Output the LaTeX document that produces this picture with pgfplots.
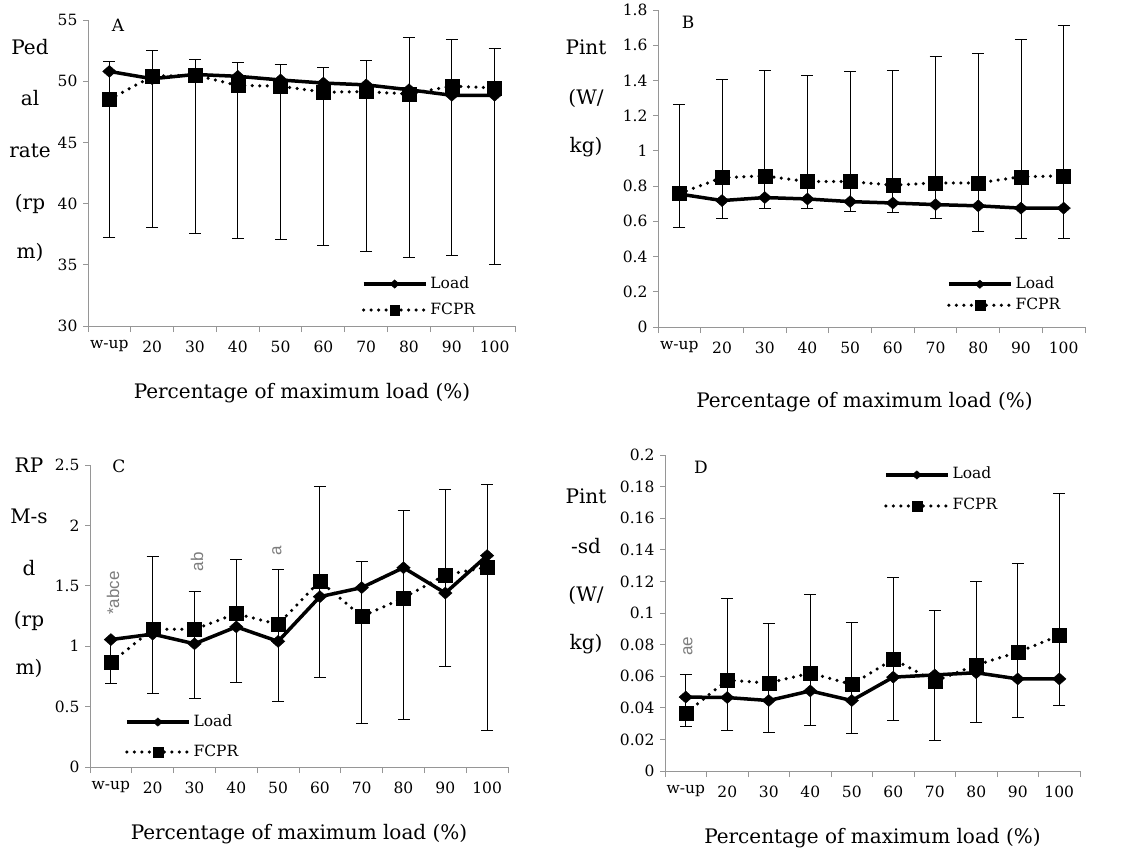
\documentclass[border=0pt]{standalone}
\usepackage{pgfplots}
\pgfplotsset{compat=1.18}
\usepackage{pgfplotstable}
\usepackage{fontspec}
\setmainfont{DejaVu Serif}
\newfontfamily\annfont{Liberation Sans}
\definecolor{axgray}{RGB}{150,150,150}
\definecolor{anngray}{RGB}{125,125,125}

\pgfplotstableread{
x load fcpr lo hi
0 50.8 48.5 37.25 51.65
1 50.2 50.4 38.05 52.5
2 50.55 50.5 37.55 51.8
3 50.4 49.65 37.15 51.5
4 50.1 49.6 37.1 51.4
5 49.85 49.1 36.55 51.1
6 49.7 49.15 36.1 51.7
7 49.3 48.95 35.6 53.6
8 48.85 49.6 35.8 53.4
9 48.85 49.45 35.05 52.7
}\tA
\pgfplotstableread{
x load fcpr lo hi
0 0.755 0.758 0.568 1.266
1 0.718 0.848 0.618 1.406
2 0.735 0.858 0.675 1.456
3 0.727 0.826 0.675 1.428
4 0.712 0.826 0.655 1.449
5 0.704 0.805 0.649 1.458
6 0.695 0.818 0.618 1.535
7 0.688 0.818 0.544 1.556
8 0.675 0.853 0.500 1.634
9 0.675 0.858 0.500 1.712
}\tB
\pgfplotstableread{
x load fcpr lo hi
0 1.055 0.865 0.69 1.055
1 1.10 1.14 0.61 1.745
2 1.02 1.14 0.57 1.455
3 1.16 1.27 0.70 1.715
4 1.04 1.18 0.545 1.635
5 1.41 1.54 0.74 2.325
6 1.485 1.245 0.36 1.705
7 1.65 1.40 0.39 2.12
8 1.44 1.59 0.835 2.295
9 1.75 1.655 0.30 2.34
}\tC
\pgfplotstableread{
x load fcpr lo hi
0 0.0468 0.0366 0.0284 0.0610
1 0.0465 0.0575 0.0258 0.1094
2 0.0446 0.0557 0.0242 0.0932
3 0.0507 0.0620 0.0290 0.1118
4 0.0446 0.0548 0.0235 0.0939
5 0.0594 0.0708 0.0322 0.1223
6 0.0608 0.0568 0.0195 0.1017
7 0.0622 0.0671 0.0305 0.1197
8 0.0583 0.0752 0.0338 0.1314
9 0.0583 0.0857 0.0415 0.1755
}\tD

\pgfplotsset{
  panel/.style={
    scale only axis,
    axis x line*=bottom, axis y line*=left,
    axis line style={-, draw=axgray, line width=1pt},
    xmin=-0.5, xmax=9.5,
    xtick={0,1,2,3,4,5,6,7,8,9},
    xticklabels={w-up,20,30,40,50,60,70,80,90,100},
    minor xtick={-0.5,0.5,1.5,2.5,3.5,4.5,5.5,6.5,7.5,8.5,9.5},
    every major x tick/.append style={draw=none},
    tick align=outside, major tick length=5pt, minor tick length=6pt,
    every tick/.append style={draw=axgray, line width=1pt},
    ticklabel style={font=\fontsize{15.5}{18}\selectfont, text=black},
    /pgf/number format/assume math mode=true,
    xticklabel style={yshift=-6pt},
    yticklabel style={xshift=-2pt},
    clip=false,
    xlabel={Percentage of maximum load (\%)},
    xlabel style={at={(axis description cs:0.5,0)}, anchor=center, yshift=-67pt, font=\fontsize{20}{24}\selectfont},
    legend cell align=left,
    legend style={draw=none, fill=none, inner sep=0pt, outer sep=0pt,
      font=\fontsize{15.5}{18}\selectfont, column sep=3pt,
      nodes={inner sep=0pt, text height=11pt, text depth=3pt}},
    legend image code/.code={
      \draw[mark repeat=2, mark phase=2, ##1, /tikz/every mark/.append style={scale=0.7}]
        plot coordinates {(0pt,0pt) (31pt,0pt) (62pt,0pt)};},
  },
  loadst/.style={black, line width=3.5pt, mark=diamond*, mark size=6pt,
    mark options={solid, xscale=1.5, line width=0.4pt}},
  fcprst/.style={black, line width=3.5pt, line cap=round, dash pattern=on 0pt off 7.5pt,
    mark=square*, mark size=7pt, mark options={solid, line width=0.4pt}},
  ebst/.style={forget plot, only marks, mark=none,
    error bars/.cd, y dir=both, y explicit,
    error bar style={black, line width=0.9pt, solid},
    error mark=-, error mark options={rotate=90, black, line width=0.9pt, mark size=6pt, solid}},
}

\begin{document}
\begin{tikzpicture}
\useasboundingbox (0pt,0pt) rectangle (1130pt,-859pt);

% ---------- A ----------
\begin{axis}[panel, at={(88pt,-326pt)}, anchor=south west, width=428pt, height=306pt,
  ymin=30, ymax=55, ytick={30,35,40,45,50,55},
  legend style={at={(0.640,0.160)}, anchor=north west, row sep=12pt}]
\addplot[ebst] table[x=x, y=load, y error plus expr=\thisrow{hi}-\thisrow{load}, y error minus expr=\thisrow{load}-\thisrow{lo}] {\tA};
\addplot[loadst] table[x=x, y=load] {\tA};
\addlegendentry{Load}
\addplot[fcprst] table[x=x, y=fcpr] {\tA};
\addlegendentry{FCPR}
\end{axis}

% ---------- B ----------
\begin{axis}[panel, at={(658pt,-327pt)}, anchor=south west, width=427pt, height=317pt,
  ymin=0, ymax=1.8, ytick={0,0.2,0.4,0.6,0.8,1,1.2,1.4,1.6,1.8},
  xlabel style={xshift=-7pt, yshift=-8pt},
  legend style={at={(0.677,0.157)}, anchor=north west, row sep=7pt}]
\addplot[ebst] table[x=x, y=load, y error plus expr=\thisrow{hi}-\thisrow{load}, y error minus expr=\thisrow{load}-\thisrow{lo}] {\tB};
\addplot[loadst] table[x=x, y=load] {\tB};
\addlegendentry{Load}
\addplot[fcprst] table[x=x, y=fcpr] {\tB};
\addlegendentry{FCPR}
\end{axis}

% ---------- C ----------
\begin{axis}[panel, at={(90pt,-767pt)}, anchor=south west, width=418pt, height=302pt,
  ymin=0, ymax=2.5, ytick={0,0.5,1,1.5,2,2.5},
  legend style={at={(0.084,0.172)}, anchor=north west, row sep=16pt}]
\addplot[ebst] table[x=x, y=load, y error plus expr=\thisrow{hi}-\thisrow{load}, y error minus expr=\thisrow{load}-\thisrow{lo}] {\tC};
\addplot[loadst] table[x=x, y=load] {\tC};
\addlegendentry{Load}
\addplot[fcprst] table[x=x, y=fcpr] {\tC};
\addlegendentry{FCPR}
\node[rotate=90, text=anngray, font=\annfont\fontsize{17}{19}\selectfont] at (axis cs:0.05,1.44) {*abce};
\node[rotate=90, text=anngray, font=\annfont\fontsize{17}{19}\selectfont] at (axis cs:2.06,1.70) {ab};
\node[rotate=90, text=anngray, font=\annfont\fontsize{17}{19}\selectfont] at (axis cs:3.97,1.79) {a};
\end{axis}

% ---------- D ----------
\begin{axis}[panel, at={(665pt,-771pt)}, anchor=south west, width=415pt, height=316pt,
  ymin=0, ymax=0.2, ytick={0,0.02,0.04,0.06,0.08,0.1,0.12,0.14,0.16,0.18,0.2},
  yticklabel style={/pgf/number format/fixed},
  legend style={at={(0.528,0.959)}, anchor=north west, row sep=17pt}]
\addplot[ebst] table[x=x, y=load, y error plus expr=\thisrow{hi}-\thisrow{load}, y error minus expr=\thisrow{load}-\thisrow{lo}] {\tD};
\addplot[loadst] table[x=x, y=load] {\tD};
\addlegendentry{Load}
\addplot[fcprst] table[x=x, y=fcpr] {\tD};
\addlegendentry{FCPR}
\node[rotate=90, text=anngray, font=\annfont\fontsize{17}{19}\selectfont] at (axis cs:0.05,0.079) {ae};
\end{axis}

% ---------- y-axis titles and panel letters ----------
\begin{scope}[every node/.style={anchor=base, font=\fontsize{20}{24}\selectfont, inner sep=0pt}]
\node at (30pt,-55pt) {Ped};
\node at (30pt,-106pt) {al};
\node at (30pt,-157pt) {rate};
\node at (30pt,-209pt) {(rp};
\node at (30pt,-258pt) {m)};

\node at (586pt,-55pt) {Pint};
\node at (586pt,-104pt) {(W/};
\node at (586pt,-152pt) {kg)};

\node at (29pt,-472pt) {RP};
\node at (29pt,-523pt) {M-s};
\node at (29pt,-575pt) {d};
\node at (29pt,-626pt) {(rp};
\node at (29pt,-674pt) {m)};

\node at (586pt,-503pt) {Pint};
\node at (586pt,-553pt) {-sd};
\node at (586pt,-601pt) {(W/};
\node at (586pt,-649pt) {kg)};
\end{scope}
\begin{scope}[every node/.style={anchor=base, font=\fontsize{17}{20}\selectfont, inner sep=0pt}]
\node at (118pt,-32pt) {A};
\node at (688pt,-29pt) {B};
\node at (119pt,-472pt) {C};
\node at (701pt,-473pt) {D};
\end{scope}
\end{tikzpicture}
\end{document}
